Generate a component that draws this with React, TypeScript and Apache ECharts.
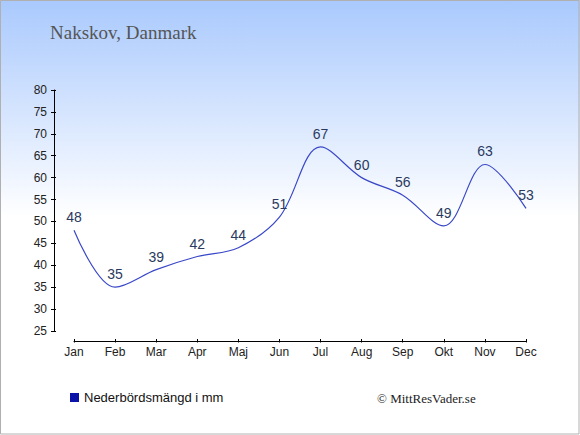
import React, { useEffect, useRef } from "react";
import * as echarts from "echarts";

const months = ["Jan", "Feb", "Mar", "Apr", "Maj", "Jun", "Jul", "Aug", "Sep", "Okt", "Nov", "Dec"];
const precipitation = [48, 35, 39, 42, 44, 51, 67, 60, 56, 49, 63, 53];
const seriesName = "Nederbördsmängd i mm";
const titleText = "Nakskov, Danmark";
const creditText = "© MittResVader.se";
const yMin = 25;
const yMax = 80;
const yStep = 5;

export default function App() {
  const ref = useRef<HTMLDivElement>(null);
  useEffect(() => {
    if (!ref.current) return;
    const chart = echarts.init(ref.current, undefined, { renderer: "svg" });
    const grid = { left: 74, right: 54, top: 90, bottom: 104 };
    chart.setOption({
      animation: false,
      backgroundColor: new echarts.graphic.LinearGradient(0, 0, 0, 1, [
        { offset: 0, color: "#a9c9fd" },
        { offset: 0.5, color: "#ffffff" },
        { offset: 1, color: "#ffffff" },
      ]),
      grid,
      xAxis: [
        {
          type: "category",
          data: months,
          boundaryGap: false,
          offset: 10,
          axisLine: { show: true, lineStyle: { color: "#000", width: 1 } },
          axisTick: { show: true, inside: true, length: 2, lineStyle: { color: "#000" } },
          axisLabel: { color: "#222", fontSize: 12, fontFamily: "Liberation Sans, Arial, sans-serif", margin: 5 },
          splitLine: { show: false },
        },
        {
          type: "category",
          data: months,
          boundaryGap: false,
          position: "bottom",
          offset: 10,
          axisLine: { show: false },
          axisTick: { show: true, inside: false, length: 1.5, lineStyle: { color: "#000" } },
          axisLabel: { show: false },
          splitLine: { show: false },
        },
      ],
      yAxis: [
        {
          type: "value",
          min: yMin,
          max: yMax,
          interval: yStep,
          offset: 20,
          axisLine: { show: true, lineStyle: { color: "#000", width: 1 } },
          axisTick: { show: true, inside: false, length: 3, lineStyle: { color: "#000" } },
          axisLabel: { color: "#222", fontSize: 12, fontFamily: "Liberation Sans, Arial, sans-serif", margin: 7 },
          splitLine: { show: false },
        },
        {
          type: "value",
          min: yMin,
          max: yMax,
          interval: yStep,
          offset: 20,
          position: "left",
          axisLine: { show: false },
          axisTick: { show: true, inside: true, length: 2, lineStyle: { color: "#000" } },
          axisLabel: { show: false },
          splitLine: { show: false },
        },
      ],
      legend: {
        left: 65,
        top: 386,
        icon: "rect",
        itemWidth: 9,
        itemHeight: 9,
        itemGap: 6,
        textStyle: { color: "#111", fontSize: 13, fontFamily: "Liberation Sans, Arial, sans-serif" },
        data: [{ name: seriesName, icon: "rect", itemStyle: { color: "#0a12a8", opacity: 1 } }],
      },
      graphic: [
        {
          type: "rect",
          shape: { x: 0.5, y: 0.5, width: 578.5, height: 433.5 },
          style: { fill: "none", stroke: "#b0b0b0", lineWidth: 1 },
          silent: true,
        },
        {
          type: "text",
          x: 50,
          y: 32,
          style: {
            text: titleText,
            fill: "#555555",
            font: "19px 'Liberation Serif', 'Times New Roman', serif",
            verticalAlign: "middle",
          },
        },
        {
          type: "text",
          x: 377,
          y: 398,
          style: {
            text: creditText,
            fill: "#222222",
            font: "13px 'Liberation Serif', 'Times New Roman', serif",
            verticalAlign: "middle",
          },
        },
      ],
      series: [
        {
          name: seriesName,
          type: "line",
          data: precipitation,
          smooth: 0.35,
          showSymbol: true,
          symbol: "circle",
          symbolSize: 0,
          itemStyle: { color: "#0a12a8" },
          lineStyle: { color: "#3a48c8", width: 1.2 },
          label: {
            show: true,
            position: "top",
            distance: 6,
            color: "#2a3a5e",
            fontSize: 14,
            fontFamily: "Liberation Sans, Arial, sans-serif",
          },
        },
      ],
    });
    return () => chart.dispose();
  }, []);
  return (
    <div
      ref={ref}
      style={{ position: "fixed", left: 0, top: 0, width: 580, height: 435 }}
    />
  );
}
